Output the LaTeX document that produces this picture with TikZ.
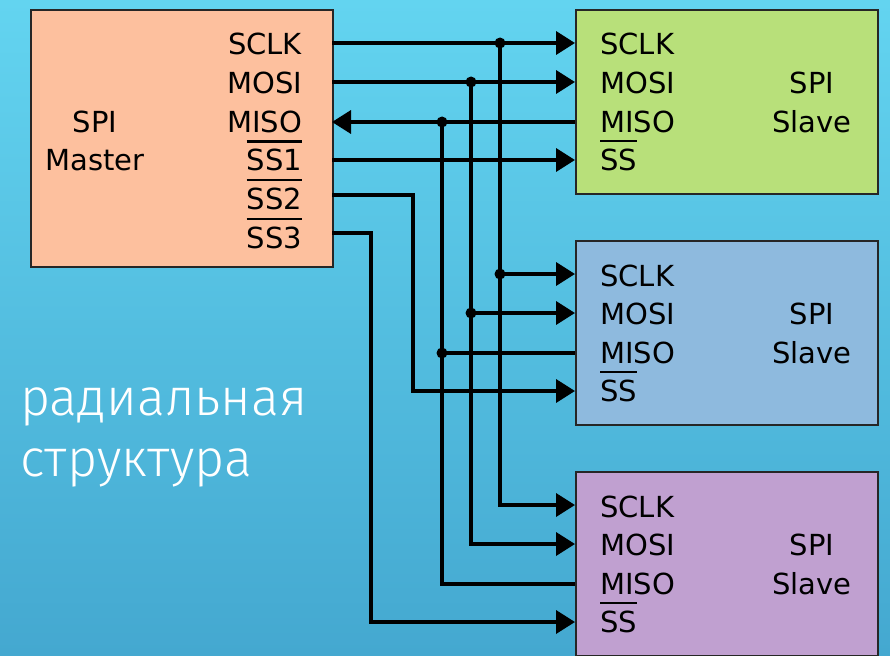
\documentclass[tikz,border=0pt]{standalone}
\usepackage{fontspec}
\setmainfont{DejaVu Sans}
\newfontfamily\rufont{Fira Sans Light}
\usetikzlibrary{positioning,arrows.meta}

\definecolor{bgtop}{RGB}{99,212,240}
\definecolor{bgbot}{RGB}{68,168,208}
\definecolor{masterfill}{RGB}{253,192,158}
\definecolor{slavegreen}{RGB}{184,224,122}
\definecolor{slaveblue}{RGB}{142,186,222}
\definecolor{slavepurple}{RGB}{192,160,208}

% active-low signal name
\newcommand{\ovl}[1]{\vbox{\hrule height 2.4pt\kern 6.5pt\hbox{#1}}}

\tikzset{
  chip/.style={draw=black!85, line width=2.2pt, anchor=north west, minimum width=302pt, inner sep=0pt},
  sig/.style={inner sep=0pt, font=\fontsize{29}{34}\selectfont},
  wire/.style={line width=3.6pt},
  dot/.style={circle, fill=black, inner sep=0pt, minimum size=11pt},
  caption/.style={inner sep=0pt, anchor=base west, text=white, font=\rufont\fontsize{52}{61}\selectfont}
}

\begin{document}
\begin{tikzpicture}[x=1pt,y=-1pt,>={Triangle[length=19pt,width=23pt]}]

\shade[top color=bgtop, bottom color=bgbot] (0,0) rectangle (890,655);
\useasboundingbox (0,0) rectangle (890,655);

% Master
\node[chip, fill=masterfill, minimum height=257pt] (master) at (30,9) {};
\path (master.north east)
+(-32,46)    node[sig, anchor=base east] (m-sclk) {SCLK}
+(-32,84.6)  node[sig, anchor=base east] (m-mosi) {MOSI}
+(-32,123.2) node[sig, anchor=base east] (m-miso) {MISO}
+(-32,161.8) node[sig, anchor=base east] (m-ss1)  {\ovl{SS1}}
+(-32,200.4) node[sig, anchor=base east] (m-ss2)  {\ovl{SS2}}
+(-32,239)   node[sig, anchor=base east] (m-ss3)  {\ovl{SS3}};
\path (master.north west)
+(65,123.2) node[sig, anchor=base] (m-name1) {SPI}
+(65,161.8) node[sig, anchor=base] (m-name2) {Master};

\coordinate (m-w1) at (332,43);
\coordinate (m-w2) at (332,82);
\coordinate (m-w3) at (332,122);
\coordinate (m-w4) at (332,160);
\coordinate (m-w5) at (332,195);
\coordinate (m-w6) at (332,233);

% Slaves
\foreach \s/\top/\col in {1/9/slavegreen, 2/240/slaveblue, 3/471/slavepurple}{
  \node[chip, fill=\col, minimum height=183.5pt] (s\s) at (575,\top) {};
  \path (s\s.north west)
  +(25,46)    node[sig, anchor=base west] (s\s-sclk) {SCLK}
  +(25,84.5)  node[sig, anchor=base west] (s\s-mosi) {MOSI}
  +(25,123.5) node[sig, anchor=base west] (s\s-miso) {MISO}
  +(25,161.5) node[sig, anchor=base west] (s\s-ss)   {\ovl{SS}}
  +(237,84.5)  node[sig, anchor=base] (s\s-name1) {SPI}
  +(237,123.5) node[sig, anchor=base] (s\s-name2) {Slave};
  \path (s\s.north west)
  +(0,34)  coordinate (s\s-w1)
  +(0,73)  coordinate (s\s-w2)
  +(0,113) coordinate (s\s-w3)
  +(0,151) coordinate (s\s-w4);
}

% Buses
\coordinate (bus-sclk) at (500,0);
\coordinate (bus-mosi) at (471,0);
\coordinate (bus-miso) at (442,0);
\coordinate (bus-ss2)  at (413,0);
\coordinate (bus-ss3)  at (371,0);

\node[dot] (j-sclk1) at (bus-sclk |- s1-w1) {};
\node[dot] (j-sclk2) at (bus-sclk |- s2-w1) {};
\node[dot] (j-mosi1) at (bus-mosi |- s1-w2) {};
\node[dot] (j-mosi2) at (bus-mosi |- s2-w2) {};
\node[dot] (j-miso1) at (bus-miso |- s1-w3) {};
\node[dot] (j-miso2) at (bus-miso |- s2-w3) {};

% SCLK
\draw[wire, ->] (m-w1) -- (s1-w1);
\draw[wire, ->] (j-sclk1.center) |- (s3-w1);
\draw[wire, ->] (j-sclk2.center) -- (s2-w1);
% MOSI
\draw[wire, ->] (m-w2) -- (s1-w2);
\draw[wire, ->] (j-mosi1.center) |- (s3-w2);
\draw[wire, ->] (j-mosi2.center) -- (s2-w2);
% MISO
\draw[wire, ->] (s1-w3) -- (m-w3);
\draw[wire] (s3-w3) -| (j-miso1.center);
\draw[wire] (j-miso2.center) -- (s2-w3);
% slave selects
\draw[wire, ->] (m-w4) -- (s1-w4);
\draw[wire, ->] (m-w5) -- (bus-ss2 |- m-w5) |- (s2-w4);
\draw[wire, ->] (m-w6) -- (bus-ss3 |- m-w6) |- (s3-w4);

\node[caption] (cap1) at (20,415) {радиальная};
\node[caption] (cap2) at (20,476) {структура};

\end{tikzpicture}
\end{document}
